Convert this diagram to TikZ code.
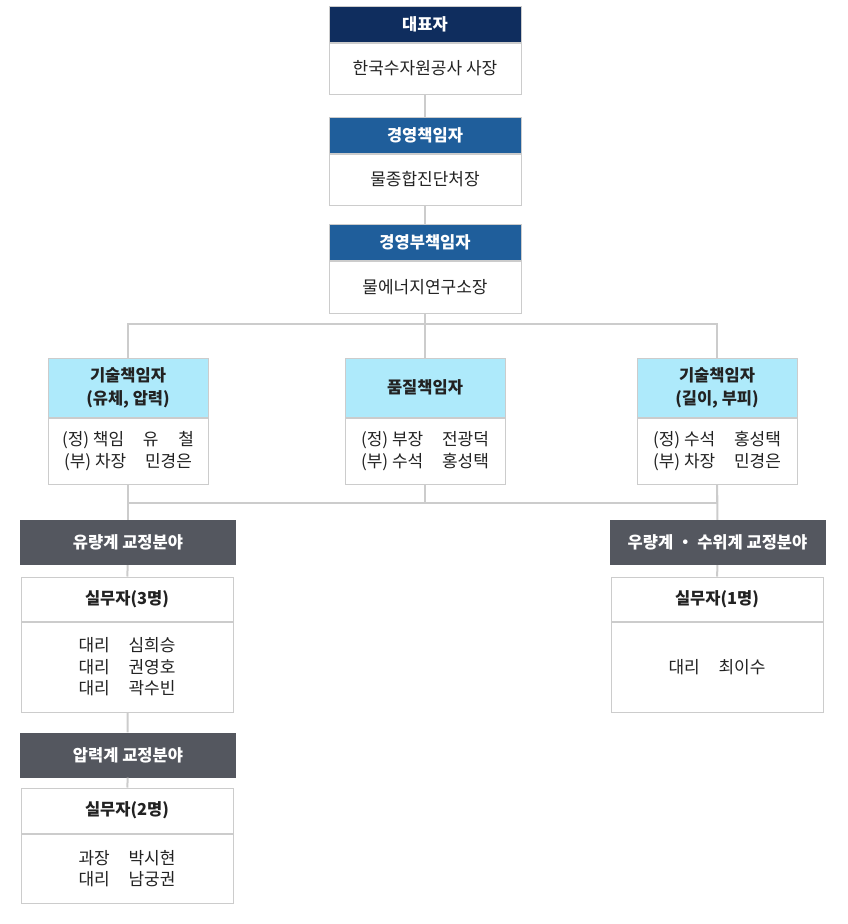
\documentclass[tikz,border=0pt]{standalone}
\usepackage{fontspec}
\setmainfont{Noto Sans CJK KR}
\usetikzlibrary{positioning}
\definecolor{orgnavy}{HTML}{0F2D5E}
\definecolor{orgblue}{HTML}{1F5E9B}
\definecolor{orgcyan}{HTML}{AEEAFB}
\definecolor{orgslate}{HTML}{54575F}
\definecolor{orgline}{HTML}{CCCCCC}
\definecolor{orgtext}{HTML}{222222}
\newcommand{\spread}[2]{\makebox[3em][s]{#1\hfill #2}}

\begin{document}
\begin{tikzpicture}[x=1pt, y=-1pt,
  box/.style={draw=orgline, line width=1pt, inner sep=0pt, align=center,
    text=orgtext, font=\fontsize{17}{22}\selectfont},
  tophead/.style={box, minimum width=192pt, minimum height=36pt,
    text=white, font=\bfseries\fontsize{16.5}{22}\selectfont},
  topbody/.style={box, fill=white, minimum width=192pt, minimum height=51pt},
  techhead/.style={box, fill=orgcyan, minimum width=160pt, minimum height=59pt,
    font=\bfseries\fontsize{16.5}{23}\selectfont},
  techbody/.style={box, fill=white, minimum width=160pt, minimum height=66pt},
  field/.style={inner sep=0pt, fill=orgslate, minimum width=216pt,
    minimum height=45pt, text=white, font=\bfseries\fontsize{16.5}{22}\selectfont},
  teamhead/.style={box, fill=white, minimum width=212pt, minimum height=44pt,
    font=\bfseries\fontsize{16.5}{22}\selectfont},
  teambody/.style={box, fill=white, minimum width=212pt},
  link/.style={draw=orgline, line width=2pt}
]
  \useasboundingbox (0,0) rectangle (848,924);

  % Management line
  \node[tophead, fill=orgnavy] (ceo) at (425, 24) {대표자};
  \node[topbody, below=0pt of ceo] (ceoB) {한국수자원공사 사장};
  \node[tophead, fill=orgblue] (mgr) at (425, 135) {경영책임자};
  \node[topbody, below=0pt of mgr] (mgrB) {물종합진단처장};
  \node[tophead, fill=orgblue] (sub) at (425, 242) {경영부책임자};
  \node[topbody, below=0pt of sub, minimum height=52pt] (subB) {물에너지연구소장};

  % Technical and quality managers
  \node[techhead] (techL) at (128, 387.5) {기술책임자\\(유체, 압력)};
  \node[techbody, below=0pt of techL] (techLB)
    {(정) 책임\hspace{1.1em}\spread{유}{철}\\(부) 차장\hspace{1.1em}민경은};
  \node[techhead] (qual) at (425, 387.5) {품질책임자};
  \node[techbody, below=0pt of qual] (qualB)
    {(정) 부장\hspace{1.1em}전광덕\\(부) 수석\hspace{1.1em}홍성택};
  \node[techhead] (techR) at (717, 387.5) {기술책임자\\(길이, 부피)};
  \node[techbody, below=0pt of techR] (techRB)
    {(정) 수석\hspace{1.1em}홍성택\\(부) 차장\hspace{1.1em}민경은};

  % Calibration fields
  \node[field] (flow) at (128, 542.5) {유량계 교정분야};
  \node[teamhead] (flowT) at (127, 599) {실무자(3명)};
  \node[teambody, below=0pt of flowT, minimum height=90pt,
    font=\fontsize{17}{21.5}\selectfont] (flowB)
    {대리\hspace{1.1em}심희승\\대리\hspace{1.1em}권영호\\대리\hspace{1.1em}곽수빈};
  \node[field] (press) at (128, 755) {압력계 교정분야};
  \node[teamhead, minimum height=45pt] (pressT) at (127, 810.5) {실무자(2명)};
  \node[teambody, below=0pt of pressT, minimum height=69pt,
    font=\fontsize{17}{21.5}\selectfont] (pressB)
    {과장\hspace{1.1em}박시현\\대리\hspace{1.1em}남궁권};
  \node[field] (rain) at (717.5, 542.5) {우량계 ・ 수위계 교정분야};
  \node[teamhead] (rainT) at (717, 599) {실무자(1명)};
  \node[teambody, below=0pt of rainT, minimum height=90pt] (rainB)
    {대리\hspace{1.1em}최이수};

  % Connectors
  \coordinate (upper) at (425, 324);
  \coordinate (lower) at (425, 503);
  \path[link] (ceoB) -- (mgr);
  \path[link] (mgrB) -- (sub);
  \path[link] (subB) -- (upper);
  \path[link] (techL) |- (upper) -| (techR);
  \path[link] (upper) -- (qual);
  \path[link] (techLB) |- (lower) -| (techRB);
  \path[link] (qualB) -- (lower);
  \path[link] (techLB) -- (flow);
  \path[link] (techRB) -- (rain);
  \path[link] (flow) -- (flowT);
  \path[link] (rain) -- (rainT);
  \path[link] (flowB) -- (press);
  \path[link] (press) -- (pressT);
\end{tikzpicture}
\end{document}
